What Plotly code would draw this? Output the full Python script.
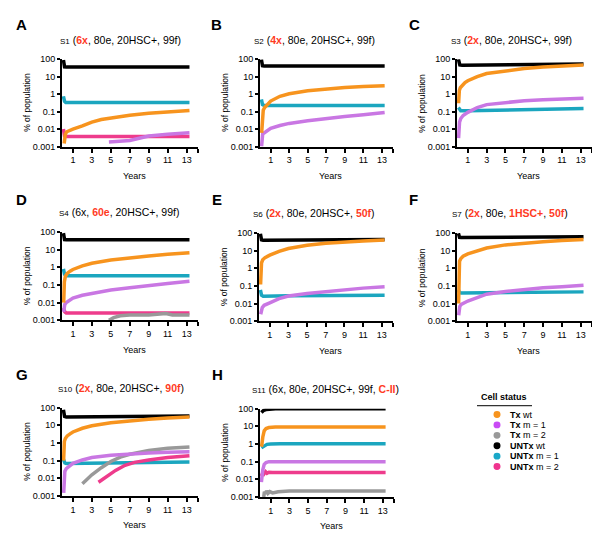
import plotly.graph_objects as go

# ---------------- data ----------------
YEAR_TICKS = [1, 3, 5, 7, 9, 11, 13]
PCT_TICKS = [0.001, 0.01, 0.1, 1, 10, 100]
PCT_LABELS = ["0.001", "0.01", "0.1", "1", "10", "100"]
SERIES_NAMES = ["Tx wt", "Tx m = 1", "Tx m = 2", "UNTx wt", "UNTx m = 1", "UNTx m = 2"]

# S1
S1_UNTX_WT = ([0, 0.05, 0.12, 0.3, 13.3], [90, 55, 36, 35, 35])
S1_UNTX_M1 = ([0, 0.05, 0.12, 0.25, 13.3], [0.75, 0.6, 0.38, 0.33, 0.33])
S1_UNTX_M2 = ([0, 0.05, 0.12, 0.25, 13.3], [0.01, 0.006, 0.004, 0.0037, 0.0037])
S1_TX_WT = ([0.08, 0.12, 0.2, 0.35, 0.6, 1, 2, 3, 4, 5, 7, 9, 11, 13.3],
            [0.0015, 0.003, 0.005, 0.007, 0.008, 0.01, 0.015, 0.025, 0.035, 0.044, 0.062, 0.08, 0.095, 0.115])
S1_TX_M1 = ([4.8, 6, 7, 8, 9, 11, 13.3], [0.0018, 0.002, 0.0022, 0.003, 0.004, 0.005, 0.0062])

# S2
S2_UNTX_WT = ([0, 0.05, 0.12, 0.3, 13.3], [95, 60, 42, 40, 40])
S2_UNTX_M1 = ([0, 0.05, 0.12, 0.3, 13.3], [0.5, 0.4, 0.25, 0.22, 0.22])
S2_TX_WT = ([0.03, 0.06, 0.1, 0.2, 0.35, 0.6, 1, 2, 3, 5, 7, 9, 11, 13.3],
            [0.006, 0.02, 0.06, 0.12, 0.17, 0.25, 0.4, 0.75, 1.05, 1.55, 2.0, 2.4, 2.7, 3.0])
S2_TX_M1 = ([0.02, 0.08, 0.15, 0.3, 0.6, 1, 2, 3, 5, 7, 9, 11, 13.3],
            [0.001, 0.004, 0.006, 0.006, 0.008, 0.011, 0.016, 0.021, 0.03, 0.041, 0.052, 0.065, 0.088])

# S3
S3_UNTX_WT = ([0, 0.05, 0.15, 0.4, 3, 7, 13.3], [100, 70, 47, 45, 46, 49, 52])
S3_UNTX_M1 = ([0, 0.1, 0.25, 1, 5, 9, 13.3], [0.17, 0.13, 0.11, 0.11, 0.12, 0.135, 0.15])
S3_TX_WT = ([0.02, 0.05, 0.1, 0.2, 0.4, 0.7, 1, 2, 3, 5, 7, 9, 11, 13.3],
            [0.3, 0.9, 1.6, 2.3, 3.2, 4.5, 5.8, 10, 15, 22, 29, 35, 40, 46])
S3_TX_M1 = ([0.02, 0.06, 0.12, 0.25, 0.5, 1, 2, 3, 5, 7, 9, 11, 13.3],
            [0.003, 0.012, 0.025, 0.04, 0.06, 0.09, 0.17, 0.25, 0.34, 0.42, 0.48, 0.53, 0.58])

# S4
S4_UNTX_WT = ([0, 0.05, 0.12, 0.3, 13.3], [85, 55, 37, 36, 36])
S4_UNTX_M1 = ([0, 0.05, 0.12, 0.3, 13.3], [0.8, 0.6, 0.4, 0.33, 0.33])
S4_UNTX_M2 = ([0, 0.05, 0.15, 0.3, 13.3], [0.005, 0.004, 0.003, 0.0026, 0.0026])
S4_TX_WT = ([0.03, 0.06, 0.1, 0.2, 0.4, 0.7, 1, 2, 3, 5, 7, 9, 11, 13.3],
            [0.01, 0.05, 0.15, 0.3, 0.45, 0.6, 0.75, 1.2, 1.7, 2.6, 3.5, 4.4, 5.4, 6.7])
S4_TX_M1 = ([0.02, 0.08, 0.15, 0.3, 0.6, 1, 2, 3, 5, 7, 9, 11, 13.3],
            [0.003, 0.006, 0.008, 0.01, 0.013, 0.018, 0.026, 0.033, 0.052, 0.07, 0.095, 0.12, 0.16])
S4_TX_M2 = ([4.8, 5.3, 6, 7, 9, 10, 10.8, 11.5, 13.3],
            [0.001, 0.0014, 0.0018, 0.002, 0.002, 0.0021, 0.0024, 0.002, 0.002])

# S6
S6_UNTX_WT = ([0, 0.05, 0.12, 0.3, 5, 13.3], [90, 60, 40, 38, 38, 42])
S6_UNTX_M1 = ([0, 0.05, 0.12, 0.3, 3, 13.3], [0.06, 0.045, 0.03, 0.026, 0.028, 0.03])
S6_TX_WT = ([0.02, 0.04, 0.07, 0.12, 0.25, 0.5, 1, 2, 3, 5, 7, 9, 11, 13.3],
            [0.12, 0.5, 1.2, 2.0, 3.0, 4.0, 5.5, 9, 13, 20, 26, 31, 35, 40])
S6_TX_M1 = ([0.03, 0.1, 0.2, 0.4, 0.7, 1, 2, 3, 5, 7, 9, 11, 13.3],
            [0.0025, 0.004, 0.006, 0.008, 0.01, 0.011, 0.019, 0.027, 0.037, 0.048, 0.062, 0.075, 0.09])

# S7
S7_UNTX_WT = ([0, 0.05, 0.12, 0.3, 5, 13.3], [95, 70, 56, 55, 57, 60])
S7_UNTX_M1 = ([0, 0.05, 0.12, 0.3, 5, 13.3], [0.06, 0.05, 0.042, 0.04, 0.042, 0.046])
S7_TX_WT = ([0.02, 0.04, 0.07, 0.12, 0.25, 0.5, 1, 2, 3, 5, 7, 9, 11, 13.3],
            [0.01, 0.1, 1.0, 2.5, 3.5, 4.8, 6.5, 10, 14, 21, 27, 32, 37, 42])
S7_TX_M1 = ([0.03, 0.08, 0.15, 0.3, 0.6, 1, 2, 3, 5, 7, 9, 11, 13.3],
            [0.0022, 0.004, 0.007, 0.009, 0.011, 0.014, 0.022, 0.034, 0.048, 0.064, 0.078, 0.09, 0.11])

# S10
S10_UNTX_WT = ([0, 0.05, 0.12, 0.3, 5, 13.3], [75, 50, 32, 30, 31, 34])
S10_UNTX_M1 = ([0, 0.05, 0.15, 0.3, 5, 13.3], [0.12, 0.1, 0.075, 0.07, 0.075, 0.085])
S10_UNTX_M2 = ([3.7, 4.5, 5.5, 6.5, 7.5, 9, 11, 13.3],
               [0.006, 0.012, 0.028, 0.055, 0.08, 0.11, 0.15, 0.19])
S10_TX_WT = ([0.02, 0.05, 0.1, 0.2, 0.4, 0.7, 1, 2, 3, 5, 7, 9, 11, 13.3],
             [0.1, 0.6, 1.2, 1.8, 2.5, 3.3, 4.2, 6.8, 9.5, 14, 18, 22, 26, 30])
S10_TX_M1 = ([0.03, 0.08, 0.15, 0.3, 0.6, 1, 2, 3, 5, 7, 9, 11, 13.3],
             [0.0015, 0.01, 0.025, 0.035, 0.05, 0.07, 0.11, 0.15, 0.2, 0.24, 0.27, 0.3, 0.32])
S10_TX_M2 = ([2, 3, 4, 5, 6, 7, 9, 11, 13.3],
             [0.005, 0.016, 0.04, 0.09, 0.16, 0.23, 0.38, 0.5, 0.6])

# S11
S11_UNTX_WT = ([0, 0.1, 0.25, 0.5, 0.8, 1.5, 3, 13.3], [60, 70, 80, 88, 94, 98, 100, 100])
S11_UNTX_M1 = ([0, 0.1, 0.3, 0.6, 1, 2, 13.3], [0.6, 0.65, 0.8, 0.95, 1.0, 1.02, 1.02])
S11_UNTX_M2 = ([0, 0.1, 0.2, 0.3, 0.45, 0.6, 0.8, 1.2, 2, 13.3],
               [0.015, 0.02, 0.027, 0.021, 0.027, 0.022, 0.025, 0.024, 0.024, 0.024])
S11_TX_WT = ([0, 0.05, 0.15, 0.3, 0.5, 0.8, 1.5, 3, 13.3], [0.7, 0.9, 2.5, 5.5, 7.5, 8.5, 9, 9.2, 9.2])
S11_TX_M1 = ([0, 0.05, 0.15, 0.3, 0.5, 0.8, 1.5, 13.3], [0.007, 0.015, 0.035, 0.07, 0.09, 0.1, 0.1, 0.1])
S11_TX_M2 = ([0.25, 0.32, 0.4, 0.55, 0.7, 0.9, 1.2, 1.8, 3, 13.3],
             [0.001, 0.002, 0.0015, 0.0022, 0.0016, 0.002, 0.0017, 0.002, 0.0022, 0.0022])

# ---------------- styling ----------------
FONT = "Liberation Sans, Arial, Helvetica, sans-serif"
RED = "#FF3B1F"
LINE_COLORS = {"Tx wt": "#F7941E", "Tx m = 1": "#C977E3", "Tx m = 2": "#999999",
               "UNTx wt": "#000000", "UNTx m = 1": "#1BA6BF", "UNTx m = 2": "#EE3C8C"}
DOT_COLORS = {"Tx wt": "#F7941E", "Tx m = 1": "#C94BF5", "Tx m = 2": "#999999",
              "UNTx wt": "#000000", "UNTx m = 1": "#1AA8C8", "UNTx m = 2": "#F0338E"}
DRAW_ORDER = ["UNTx wt", "UNTx m = 1", "UNTx m = 2", "Tx m = 2", "Tx m = 1", "Tx wt"]

def r(s):
    return f"<b><span style='color:{RED}'>{s}</span></b>"

def small(s):
    return f"<span style='font-size:8px'>{s}</span>"

W, H = 600, 547
# panel: letter, title, series, (x0,x1) px, (top,bottom) px, title center x, title y, letter x, letter y
PANELS = [
    ("A", small("S1") + f" ({r('6x')}, 80e, 20HSC+, 99f)",
     {"UNTx wt": S1_UNTX_WT, "UNTx m = 1": S1_UNTX_M1, "UNTx m = 2": S1_UNTX_M2,
      "Tx wt": S1_TX_WT, "Tx m = 1": S1_TX_M1},
     (54, 190), (47, 136), 112, 27, 13, 12),
    ("B", small("S2") + f" ({r('4x')}, 80e, 20HSC+, 99f)",
     {"UNTx wt": S2_UNTX_WT, "UNTx m = 1": S2_UNTX_M1, "Tx wt": S2_TX_WT, "Tx m = 1": S2_TX_M1},
     (252, 385), (47, 136), 306, 27, 208, 12),
    ("C", small("S3") + f" ({r('2x')}, 80e, 20HSC+, 99f)",
     {"UNTx wt": S3_UNTX_WT, "UNTx m = 1": S3_UNTX_M1, "Tx wt": S3_TX_WT, "Tx m = 1": S3_TX_M1},
     (449, 584), (47, 136), 503, 27, 406, 12),
    ("D", small("S4") + f" (6x, {r('60e')}, 20HSC+, 99f)",
     {"UNTx wt": S4_UNTX_WT, "UNTx m = 1": S4_UNTX_M1, "UNTx m = 2": S4_UNTX_M2,
      "Tx wt": S4_TX_WT, "Tx m = 1": S4_TX_M1, "Tx m = 2": S4_TX_M2},
     (54, 190), (223, 313), 111, 203, 13, 190),
    ("E", small("S6") + f" ({r('2x')}, 80e, 20HSC+, {r('50f')})",
     {"UNTx wt": S6_UNTX_WT, "UNTx m = 1": S6_UNTX_M1, "Tx wt": S6_TX_WT, "Tx m = 1": S6_TX_M1},
     (251, 385), (224, 314), 306, 204, 209, 190),
    ("F", small("S7") + f" ({r('2x')}, 80e, {r('1HSC+')}, {r('50f')})",
     {"UNTx wt": S7_UNTX_WT, "UNTx m = 1": S7_UNTX_M1, "Tx wt": S7_TX_WT, "Tx m = 1": S7_TX_M1},
     (449, 584), (224, 314), 502, 204, 405, 190),
    ("G", small("S10") + f" ({r('2x')}, 80e, 20HSC+, {r('90f')})",
     {"UNTx wt": S10_UNTX_WT, "UNTx m = 1": S10_UNTX_M1, "UNTx m = 2": S10_UNTX_M2,
      "Tx wt": S10_TX_WT, "Tx m = 1": S10_TX_M1, "Tx m = 2": S10_TX_M2},
     (54, 190), (402, 492), 113, 382, 14, 368),
    ("H", small("S11") + f" (6x, 80e, 20HSC+, 99f, {r('C-II')})",
     {"UNTx wt": S11_UNTX_WT, "UNTx m = 1": S11_UNTX_M1, "UNTx m = 2": S11_UNTX_M2,
      "Tx wt": S11_TX_WT, "Tx m = 1": S11_TX_M1, "Tx m = 2": S11_TX_M2},
     (252, 386), (403, 493), 317, 383, 209, 368),
]

fig = go.Figure()
annotations = []
shapes = []
layout_axes = {}

def px_x(x):
    return x / W

def px_y(y):
    return 1 - y / H

for i, (letter, title, series, (x0, x1), (top, bot), tx, ty, lx, ly) in enumerate(PANELS):
    n = i + 1
    xa = "x" if n == 1 else f"x{n}"
    ya = "y" if n == 1 else f"y{n}"
    for name in DRAW_ORDER:
        if name not in series:
            continue
        t, v = series[name]
        fig.add_trace(go.Scatter(x=t, y=v, mode="lines", xaxis=xa, yaxis=ya,
                                 line=dict(color=LINE_COLORS[name], width=3.5),
                                 showlegend=False, hoverinfo="skip"))
    layout_axes[f"xaxis{'' if n == 1 else n}"] = dict(
        domain=[px_x(x0), px_x(x1)], anchor=ya, range=[-0.15, 14.2],
        tickvals=YEAR_TICKS + [14.2], ticktext=[str(v) for v in YEAR_TICKS] + [""],
        ticks="outside", ticklen=4, tickwidth=1.5, tickcolor="black",
        showline=True, linecolor="black", linewidth=2, showgrid=False, zeroline=False,
        tickfont=dict(family=FONT, size=9, color="black"))
    layout_axes[f"yaxis{'' if n == 1 else n}"] = dict(
        domain=[px_y(bot), px_y(top)], anchor=xa, type="log", range=[-3, 2],
        tickvals=PCT_TICKS, ticktext=PCT_LABELS,
        ticks="outside", ticklen=3, tickwidth=1.5, tickcolor="black",
        showline=True, linecolor="black", linewidth=2, showgrid=False, zeroline=False,
        tickfont=dict(family=FONT, size=9, color="black"))
    # title
    annotations.append(dict(x=px_x(tx), y=px_y(ty), xref="paper", yref="paper", text=title,
                            showarrow=False, xanchor="center", yanchor="middle",
                            font=dict(family=FONT, size=10.5, color="black")))
    # panel letter
    annotations.append(dict(x=px_x(lx), y=px_y(ly), xref="paper", yref="paper", text=f"<b>{letter}</b>",
                            showarrow=False, xanchor="center", yanchor="middle",
                            font=dict(family=FONT, size=15, color="black")))
    # axis titles
    annotations.append(dict(x=px_x(x0 - 35), y=px_y((top + bot) / 2), xref="paper", yref="paper",
                            text="% of population", textangle=-90, showarrow=False,
                            xanchor="center", yanchor="middle",
                            font=dict(family=FONT, size=8.5, color="black")))
    annotations.append(dict(x=px_x((x0 + x1) / 2 + 4), y=px_y(bot + 30), xref="paper", yref="paper",
                            text="Years", showarrow=False, xanchor="center", yanchor="middle",
                            font=dict(family=FONT, size=9, color="black")))

# legend block
annotations.append(dict(x=px_x(496), y=px_y(391), xref="paper", yref="paper", text="<b>Cell status</b>",
                        showarrow=False, xanchor="center", yanchor="middle",
                        font=dict(family=FONT, size=9, color="black")))
shapes.append(dict(type="line", xref="paper", yref="paper", x0=px_x(469), x1=px_x(524),
                   y0=px_y(400), y1=px_y(400), line=dict(color="#333333", width=1.2)))
for k, name in enumerate(SERIES_NAMES):
    yy = 409 + k * 10.6
    shapes.append(dict(type="circle", xref="paper", yref="paper",
                       x0=px_x(489 - 3.5), x1=px_x(489 + 3.5), y0=px_y(yy + 3.5), y1=px_y(yy - 3.5),
                       fillcolor=DOT_COLORS[name], line=dict(width=0)))
    head, tail = name.split(" ", 1)
    annotations.append(dict(x=px_x(500), y=px_y(yy), xref="paper", yref="paper",
                            text=f"<b>{head}</b> {tail}", showarrow=False,
                            xanchor="left", yanchor="middle",
                            font=dict(family=FONT, size=9, color="black")))

fig.update_layout(width=W, height=H, margin=dict(l=0, r=0, t=0, b=0),
                  paper_bgcolor="white", plot_bgcolor="white",
                  annotations=annotations, shapes=shapes, showlegend=False, **layout_axes)

fig.write_html("out.html")
